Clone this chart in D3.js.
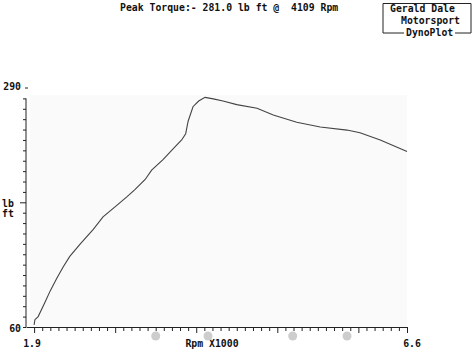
<!DOCTYPE html>
<html>
  <head>
    <meta charset="utf-8">
    <script src="https://d3js.org/d3.v7.min.js"></script>
    <style>
    body { margin: 0; background: #fff; }
    text {
        font-family: "DejaVu Sans Mono", monospace;
        font-weight: bold;
        font-size: 9.8px;
        fill: #111;
    }
    .axis path, .axis line { stroke: #222; stroke-width: 1; }
    </style>
  </head>
  <body>
    <script>

    // torque curve
    var rpm    = [2.00, 2.01, 2.05, 2.13, 2.20, 2.28, 2.36, 2.44, 2.57, 2.73, 2.85, 3.02, 3.14, 3.24, 3.37,
                  3.45, 3.59, 3.72, 3.82, 3.87, 3.90, 3.96, 4.03, 4.109, 4.21, 4.33, 4.50, 4.75, 4.95,
                  5.24, 5.53, 5.86, 6.02, 6.27, 6.60];
    var torque = [62, 67, 70, 83, 95, 107, 118, 128, 140, 154, 166, 177, 185, 192, 202,
                  211, 221, 232, 240, 246, 258, 272, 277.5, 281, 279.5, 277.5, 274, 270.5, 264,
                  257, 252.5, 249.5, 247, 240, 229];

    var yTicks = d3.range(60, 290, 10);
    var xTicks = d3.range(20, 67, 1).map(function(d) { return d / 10; });
    var holes = [3.5, 4.145, 5.19, 5.86];   // punch holes along the bottom edge (rpm units)

    var width = 472, height = 350;

    var x = d3.scaleLinear().domain([1.9, 6.6]).range([26, 407]);
    var y = d3.scaleLinear().domain([60, 290]).range([327, 88]);

    var svg = d3.select("body")
      .append("svg")
        .attr("width", width)
        .attr("height", height);

    // faint scan shading of the paper
    svg.append("rect")
        .attr("x", x(1.95))
        .attr("y", y(283))
        .attr("width", x(6.6) - x(1.95))
        .attr("height", y(60) - y(283))
        .style("fill", "#fafafa");

    // y axis
    var yAxis = d3.axisLeft(y)
        .tickValues(yTicks)
        .tickSize(3)
        .tickFormat("");
    var gy = svg.append("g")
        .attr("class", "axis")
        .attr("transform", "translate(" + x(1.9) + ",0)")
        .call(yAxis);
    gy.select(".domain").remove();
    gy.append("line")
        .attr("x1", 0).attr("x2", 0)
        .attr("y1", y(280)).attr("y2", y(60));
    gy.selectAll(".tick line")
        .attr("x2", function(d) { return d === 180 ? -6 : -3; });

    // x axis
    var xAxis = d3.axisBottom(x)
        .tickValues(xTicks)
        .tickSize(4)
        .tickSizeOuter(0)
        .tickFormat("");
    var gx = svg.append("g")
        .attr("class", "axis")
        .attr("transform", "translate(0," + y(60) + ")")
        .call(xAxis);
    gx.selectAll(".tick line")
        .attr("y2", function(d) { return (Math.abs(d - Math.round(d)) < 0.001 || d === 6.6) ? 6 : 4; });

    // 290 marker above the axis line
    svg.append("line")
        .attr("x1", x(1.9) - 1).attr("x2", x(1.9) + 2)
        .attr("y1", y(290)).attr("y2", y(290))
        .style("stroke", "#222");

    // labels
    svg.append("text").attr("x", 21).attr("y", y(290) + 2)
        .attr("text-anchor", "end").text("290");
    svg.append("text").attr("x", 21).attr("y", y(60) + 5)
        .attr("text-anchor", "end").text("60");
    svg.append("text").attr("x", 2).attr("y", 207).text("lb");
    svg.append("text").attr("x", 2).attr("y", 217).text("ft");
    svg.append("text").attr("x", x(1.9) + 6).attr("y", 347)
        .attr("text-anchor", "middle").text("1.9");
    svg.append("text").attr("x", x(6.6) + 5).attr("y", 347)
        .attr("text-anchor", "middle").text("6.6");
    svg.append("text").attr("x", 212).attr("y", 347)
        .attr("text-anchor", "middle").text("Rpm X1000");

    // header
    svg.append("text").attr("x", 120).attr("y", 10.5)
        .attr("xml:space", "preserve")
        .style("white-space", "pre")
        .text("Peak Torque:- 281.0 lb ft @  4109 Rpm");

    // logo box
    var logo = svg.append("g");
    logo.append("path")
        .attr("d", "M404,33 H383 V3.5 H471 V33 H455")
        .style("fill", "none").style("stroke", "#222");
    logo.append("text").attr("x", 390).attr("y", 12).text("Gerald Dale");
    logo.append("text").attr("x", 401).attr("y", 24).text("Motorsport");
    logo.append("text").attr("x", 406).attr("y", 36).text("DynoPlot");

    // punch holes
    svg.selectAll("circle.hole")
        .data(holes)
        .enter().append("circle")
        .attr("class", "hole")
        .attr("cx", function(d) { return x(d); })
        .attr("cy", 336)
        .attr("r", 4.5)
        .style("fill", "#cdcdcd");

    // torque curve
    var line = d3.line()
        .x(function(d, i) { return x(rpm[i]); })
        .y(function(d) { return y(d); });

    svg.append("path")
        .datum(torque)
        .attr("d", line)
        .style("fill", "none")
        .style("stroke", "#444")
        .style("stroke-width", 1.1);

    </script>
  </body>
</html>
